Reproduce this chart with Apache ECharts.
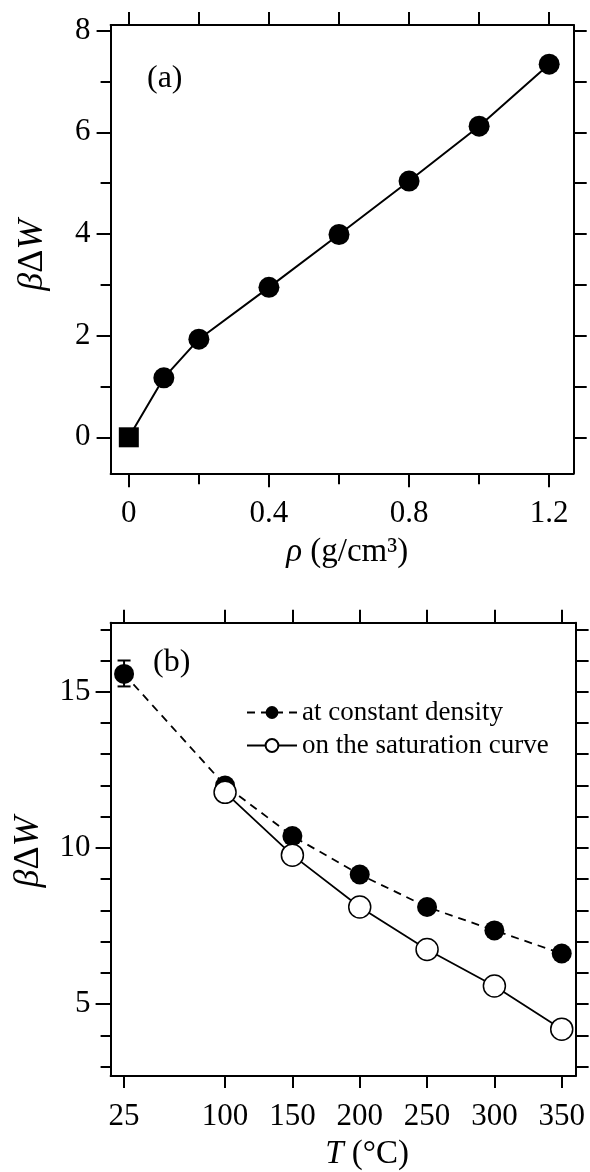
<!DOCTYPE html>
<html>
<head>
<meta charset="utf-8">
<script src="https://cdn.jsdelivr.net/npm/echarts@6/dist/echarts.min.js"></script>
<style>
html,body{margin:0;padding:0;background:#fff;}
#chart{width:590px;height:1172px;}
</style>
</head>
<body>
<div id="chart"></div>
<script>
// ---------- Data: panel (a) ----------
var densityA = [0, 0.1, 0.2, 0.4, 0.6, 0.8, 1.0, 1.2];
var bdwA = [0, 1.17, 1.93, 2.95, 3.99, 5.04, 6.12, 7.34];

// ---------- Data: panel (b) ----------
var tempConst = [25, 100, 150, 200, 250, 300, 350];
var bdwConst = [15.57, 12.0, 10.38, 9.15, 8.11, 7.36, 6.62];
var tempSat = [100, 150, 200, 250, 300, 350];
var bdwSat = [11.78, 9.77, 8.11, 6.75, 5.58, 4.2];
var errBar = [[25, 15.17, 16.0]];

// ---------- Tick values ----------
var aXMajor = [0, 0.4, 0.8, 1.2];
var aXMinor = [0.2, 0.6, 1.0];
var aXAll = [0, 0.2, 0.4, 0.6, 0.8, 1.0, 1.2];
var aYMajor = [0, 2, 4, 6, 8];
var aYMinor = [1, 3, 5, 7];
var aYAll = [0, 1, 2, 3, 4, 5, 6, 7, 8];
var bXTicks = [25, 100, 150, 200, 250, 300, 350];
var bYMajor = [5, 10, 15];
var bYMinor = [3, 4, 6, 7, 8, 9, 11, 12, 13, 14, 16, 17];
var bYAll = [3, 4, 5, 6, 7, 8, 9, 10, 11, 12, 13, 14, 15, 16, 17];

var legendNames = ['at constant density', 'on the saturation curve'];

var FONT = 'Liberation Serif';
var BLACK = '#000';
var TICK_FS = 31;

function pairs(xs, ys) { return xs.map(function (x, i) { return [x, ys[i]]; }); }

function axisBase(extra) {
  var o = {
    type: 'value',
    splitLine: { show: false },
    axisLine: { show: true, onZero: false, lineStyle: { color: BLACK, width: 2 } },
    axisTick: { show: true, inside: false, length: 12, lineStyle: { color: BLACK, width: 2 } },
    axisLabel: { show: false, color: BLACK, fontFamily: FONT, fontSize: TICK_FS },
    nameTextStyle: { color: BLACK, fontFamily: FONT, fontSize: 33 }
  };
  for (var k in extra) o[k] = extra[k];
  return o;
}

var nameRich = {
  i: { fontStyle: 'italic', fontFamily: FONT, fontSize: 33, color: BLACK },
  n: { fontFamily: FONT, fontSize: 33, color: BLACK }
};
var yNameRich = {
  i: { fontStyle: 'italic', fontFamily: FONT, fontSize: 36, color: BLACK },
  n: { fontFamily: FONT, fontSize: 36, color: BLACK }
};

var aXmin = -0.052, aXmax = 1.27, aYmin = -0.708, aYmax = 8.11;
var bXmin = 15, bXmax = 360.3, bYmin = 2.70, bYmax = 17.21;

var hiddenLine = { show: false, onZero: false };
var frameLine = { show: true, onZero: false, lineStyle: { color: BLACK, width: 2 } };

var option = {
  animation: false,
  backgroundColor: '#fff',
  grid: [
    { left: 110.6, right: 16.3, top: 25, bottom: 698.7, containLabel: false },
    { left: 110.6, right: 14.4, top: 622.7, bottom: 95.3, containLabel: false }
  ],
  xAxis: [
    axisBase({
      gridIndex: 0, position: 'bottom', min: aXmin, max: aXmax, axisLine: frameLine,
      axisTick: { show: true, length: 14, customValues: aXMajor, lineStyle: { color: BLACK, width: 2 } },
      axisLabel: { show: true, customValues: aXMajor, margin: 25, color: BLACK, fontFamily: FONT, fontSize: TICK_FS },
      name: '{i|ρ}{n| (g/cm³)}', nameLocation: 'middle', nameGap: 63,
      nameTextStyle: { rich: nameRich, padding: [0, 0, 0, 10] }
    }),
    axisBase({
      gridIndex: 0, position: 'bottom', min: aXmin, max: aXmax,
      axisLine: hiddenLine,
      axisTick: { show: true, length: 11, customValues: aXMinor, lineStyle: { color: BLACK, width: 2 } }
    }),
    axisBase({
      gridIndex: 0, position: 'top', min: aXmin, max: aXmax, axisLine: frameLine,
      axisTick: { show: true, length: 13, customValues: aXAll, lineStyle: { color: BLACK, width: 2 } }
    }),
    axisBase({
      gridIndex: 1, position: 'bottom', min: bXmin, max: bXmax, axisLine: frameLine,
      axisTick: { show: true, length: 12, customValues: bXTicks, lineStyle: { color: BLACK, width: 2 } },
      axisLabel: { show: true, customValues: bXTicks, margin: 25, color: BLACK, fontFamily: FONT, fontSize: TICK_FS },
      name: '{i|T}{n| (°C)}', nameLocation: 'middle', nameGap: 62,
      nameTextStyle: { rich: nameRich, padding: [0, 0, 0, 48] }
    }),
    axisBase({
      gridIndex: 1, position: 'top', min: bXmin, max: bXmax, axisLine: frameLine,
      axisTick: { show: true, length: 13, customValues: bXTicks, lineStyle: { color: BLACK, width: 2 } }
    })
  ],
  yAxis: [
    axisBase({
      gridIndex: 0, position: 'left', min: aYmin, max: aYmax, axisLine: frameLine,
      axisTick: { show: true, length: 14, customValues: aYMajor, lineStyle: { color: BLACK, width: 2 } },
      axisLabel: { show: true, customValues: aYMajor, margin: 20, color: BLACK, fontFamily: FONT, fontSize: TICK_FS },
      name: '{i|β}{n|Δ}{i|W}', nameLocation: 'middle', nameGap: 60, nameRotate: 90,
      nameTextStyle: { rich: yNameRich, padding: [0, 12, 0, 0] }
    }),
    axisBase({
      gridIndex: 0, position: 'left', min: aYmin, max: aYmax,
      axisLine: hiddenLine,
      axisTick: { show: true, length: 10, customValues: aYMinor, lineStyle: { color: BLACK, width: 2 } }
    }),
    axisBase({
      gridIndex: 0, position: 'right', min: aYmin, max: aYmax, axisLine: frameLine,
      axisTick: { show: true, length: 13, customValues: aYAll, lineStyle: { color: BLACK, width: 2 } }
    }),
    axisBase({
      gridIndex: 1, position: 'left', min: bYmin, max: bYmax, axisLine: frameLine,
      axisTick: { show: true, length: 15, customValues: bYMajor, lineStyle: { color: BLACK, width: 2 } },
      axisLabel: { show: true, customValues: bYMajor, margin: 20, color: BLACK, fontFamily: FONT, fontSize: TICK_FS },
      name: '{i|β}{n|Δ}{i|W}', nameLocation: 'middle', nameGap: 64, nameRotate: 90,
      nameTextStyle: { rich: yNameRich, padding: [0, 5, 0, 0] }
    }),
    axisBase({
      gridIndex: 1, position: 'left', min: bYmin, max: bYmax,
      axisLine: hiddenLine,
      axisTick: { show: true, length: 10, customValues: bYMinor, lineStyle: { color: BLACK, width: 2 } }
    }),
    axisBase({
      gridIndex: 1, position: 'right', min: bYmin, max: bYmax, axisLine: frameLine,
      axisTick: { show: true, length: 13, customValues: bYAll, lineStyle: { color: BLACK, width: 2 } }
    })
  ],
  legend: {
    orient: 'vertical',
    left: 241,
    top: 694,
    itemWidth: 50,
    itemHeight: 16,
    itemGap: 6,
    data: legendNames,
    textStyle: { color: BLACK, fontFamily: FONT, fontSize: 27 }
  },
  graphic: [
    { type: 'text', left: 147, top: 63, style: { text: '(a)', fill: BLACK, font: '32px "Liberation Serif"' } },
    { type: 'text', left: 153, top: 647, style: { text: '(b)', fill: BLACK, font: '32px "Liberation Serif"' } }
  ],
  series: [
    {
      type: 'line', xAxisIndex: 0, yAxisIndex: 0,
      data: pairs(densityA, bdwA).map(function (p, i) {
        return i === 0 ? { value: p, symbol: 'rect', symbolSize: 20 } : p;
      }),
      symbol: 'circle', symbolSize: 21,
      itemStyle: { color: BLACK },
      lineStyle: { color: BLACK, width: 2 },
      z: 3
    },
    {
      type: 'custom', xAxisIndex: 3, yAxisIndex: 3,
      data: errBar,
      renderItem: function (params, api) {
        var x = api.value(0), lo = api.value(1), hi = api.value(2);
        var p1 = api.coord([x, lo]), p2 = api.coord([x, hi]);
        var w = 6.5;
        var st = { stroke: BLACK, lineWidth: 2 };
        return {
          type: 'group',
          children: [
            { type: 'line', shape: { x1: p1[0], y1: p1[1], x2: p2[0], y2: p2[1] }, style: st },
            { type: 'line', shape: { x1: p1[0] - w, y1: p1[1], x2: p1[0] + w, y2: p1[1] }, style: st },
            { type: 'line', shape: { x1: p2[0] - w, y1: p2[1], x2: p2[0] + w, y2: p2[1] }, style: st }
          ]
        };
      },
      z: 2
    },
    {
      name: legendNames[0],
      type: 'line', xAxisIndex: 3, yAxisIndex: 3,
      data: pairs(tempConst, bdwConst),
      symbol: 'circle', symbolSize: 20,
      itemStyle: { color: BLACK },
      lineStyle: { color: BLACK, width: 1.8, type: [8, 6] },
      z: 3
    },
    {
      name: legendNames[1],
      type: 'line', xAxisIndex: 3, yAxisIndex: 3,
      data: pairs(tempSat, bdwSat),
      symbol: 'circle', symbolSize: 22,
      itemStyle: { color: '#fff', borderColor: BLACK, borderWidth: 1.5 },
      lineStyle: { color: BLACK, width: 1.8 },
      z: 4
    }
  ]
};

var chart = echarts.init(document.getElementById('chart'), null, { renderer: 'canvas' });
chart.setOption(option);
</script>
</body>
</html>
